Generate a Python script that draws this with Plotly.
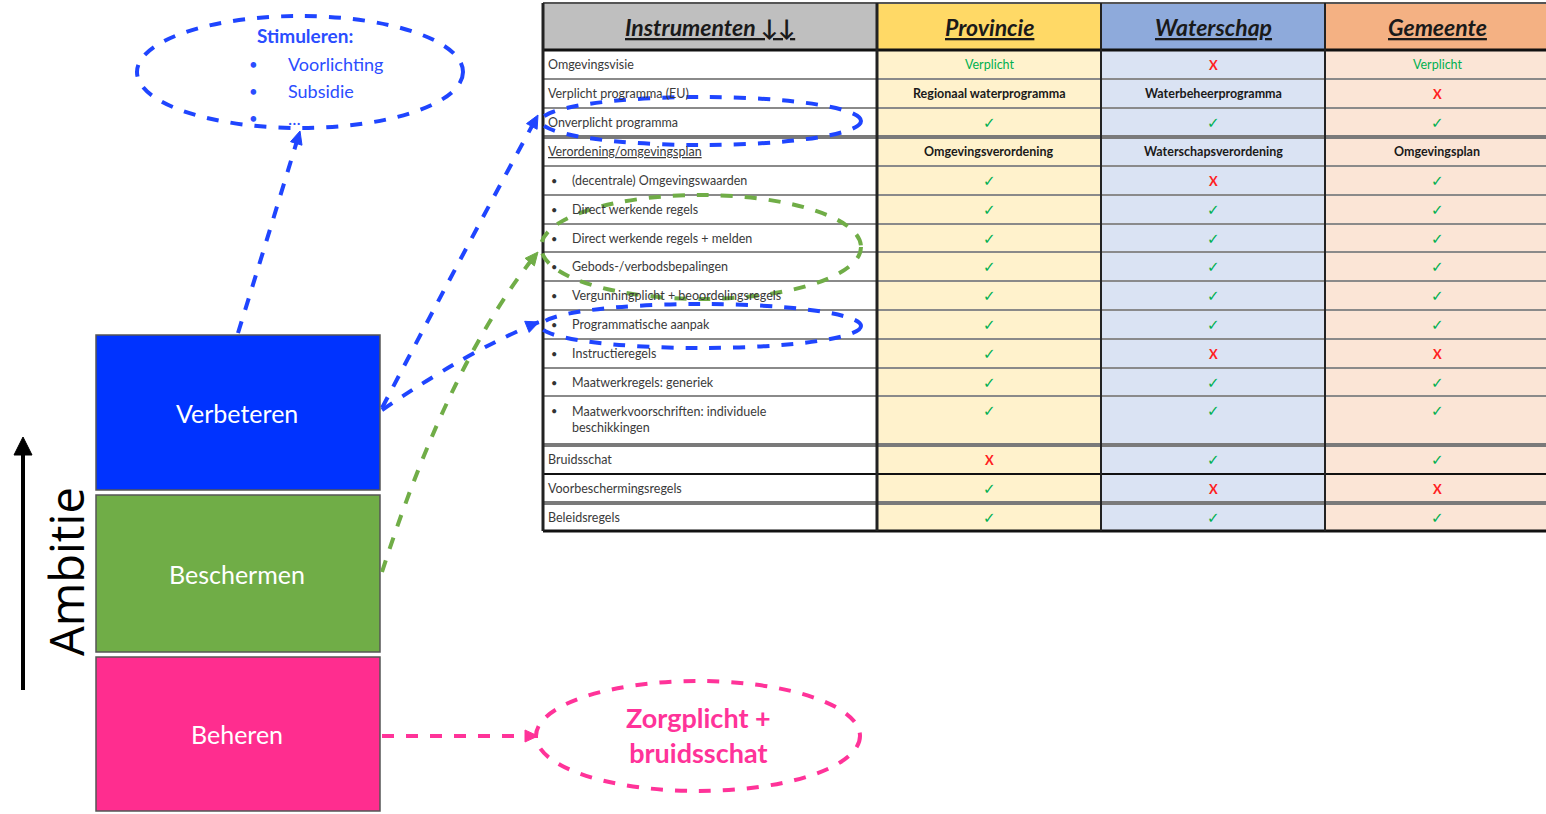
import numpy as np
import plotly.graph_objects as go

# ---------------- data ----------------
instrumenten = [
    "Omgevingsvisie",
    "Verplicht programma (EU)",
    "Onverplicht programma",
    "Verordening/omgevingsplan",
    "(decentrale) Omgevingswaarden",
    "Direct werkende regels",
    "Direct werkende regels + melden",
    "Gebods-/verbodsbepalingen",
    "Vergunningplicht + beoordelingsregels",
    "Programmatische aanpak",
    "Instructieregels",
    "Maatwerkregels: generiek",
    "Maatwerkvoorschriften: individuele<br>beschikkingen",
    "Bruidsschat",
    "Voorbeschermingsregels",
    "Beleidsregels",
]
sub_item = [False] * 4 + [True] * 9 + [False] * 3
overheden = ["Provincie", "Waterschap", "Gemeente"]
provincie = ["Verplicht", "Regionaal waterprogramma", "✓", "Omgevingsverordening",
             "✓", "✓", "✓", "✓", "✓", "✓", "✓", "✓", "✓", "X", "✓", "✓"]
waterschap = ["X", "Waterbeheerprogramma", "✓", "Waterschapsverordening",
              "X", "✓", "✓", "✓", "✓", "✓", "X", "✓", "✓", "✓", "X", "✓"]
gemeente = ["Verplicht", "X", "✓", "Omgevingsplan",
            "✓", "✓", "✓", "✓", "✓", "✓", "X", "✓", "✓", "✓", "X", "✓"]
ambities = ["Verbeteren", "Beschermen", "Beheren"]
stimuleren = ["Voorlichting", "Subsidie", "..."]
zorgplicht = "Zorgplicht +<br>bruidsschat"

# ---------------- layout constants ----------------
W, H = 1546, 814
FONT = "Lato"
col_x = [543, 877, 1101, 1325, 1549]
head_top, head_bot = 3, 50
row_tops = [50, 79, 108, 137, 166, 195, 224, 252, 281, 310, 339, 368, 396, 445, 474, 503, 531]
thick_lines = {137, 445, 503}
black_lines = {474}
head_fill = ["#bfbfbf", "#ffd966", "#8eaadb", "#f4b183"]
body_fill = ["#ffffff", "#fff2cc", "#dae3f3", "#fbe5d6"]
BLUE, GREEN, PINK = "#1f45ff", "#70ad47", "#ff3399"
CHECK, CROSS = "#00b050", "#ff2020"

shapes, ann = [], []

def rect(x0, y0, x1, y1, fill, lc="rgba(0,0,0,0)", lw=0):
    shapes.append(dict(type="rect", x0=x0, y0=y0, x1=x1, y1=y1, fillcolor=fill,
                       line=dict(color=lc, width=lw), layer="below"))

def line(x0, y0, x1, y1, color, width, dash="solid", layer="below"):
    shapes.append(dict(type="line", x0=x0, y0=y0, x1=x1, y1=y1,
                       line=dict(color=color, width=width, dash=dash), layer=layer))

def text(x, y, t, size, color, bold=False, italic=False, xa="center", ya="middle", angle=0,
         family=FONT, align="center"):
    if bold:
        t = "<b>" + t + "</b>"
    if italic:
        t = "<i>" + t + "</i>"
    ann.append(dict(x=x, y=y, text=t, showarrow=False, xanchor=xa, yanchor=ya, textangle=angle,
                    font=dict(size=size, color=color, family=family), align=align))

# ---------------- table ----------------
for c in range(4):
    rect(col_x[c], head_top, col_x[c + 1], head_bot, head_fill[c])
    rect(col_x[c], head_bot, col_x[c + 1], row_tops[-1], body_fill[c])

text((col_x[0] + col_x[1]) / 2, 27, "<u>Instrumenten ↓↓</u>", 23, "#1a1a1a", bold=True, italic=True)
for c, name in enumerate(overheden):
    text((col_x[c + 1] + col_x[c + 2]) / 2, 27, "<u>" + name + "</u>", 23, "#1a1a1a", bold=True, italic=True)

for i, y in enumerate(row_tops[1:-1]):
    if y in thick_lines:
        line(col_x[0], y, W, y, "#7a7a7a", 4)
    elif y in black_lines:
        line(col_x[0], y, W, y, "#111111", 2)
    else:
        line(col_x[0], y, W, y, "#8a8a8a", 2)
line(col_x[0], head_bot, W, head_bot, "#111111", 3)
line(col_x[0], head_top, W, head_top, "#555555", 2)
line(col_x[0], row_tops[-1], W, row_tops[-1], "#111111", 3)
for k, x in enumerate(col_x[:-1]):
    line(x, head_top, x, row_tops[-1], "#222222", 3 if k < 2 else 2)

for i, name in enumerate(instrumenten):
    top = row_tops[i]
    yc = top + 14.5
    if sub_item[i]:
        text(549, yc, "•", 11, "#333333", xa="left")
        if "<br>" in name:
            text(570, top + 6, name, 12.5, "#3a3a3a", xa="left", ya="top", align="left")
        else:
            text(570, yc, name, 12.5, "#3a3a3a", xa="left")
    else:
        t = "<u>" + name + "</u>" if i == 3 else name
        text(546, yc, t, 12.5, "#3a3a3a", xa="left")
    for c, vals in enumerate([provincie, waterschap, gemeente]):
        v = vals[i]
        xc = (col_x[c + 1] + col_x[c + 2]) / 2
        if v == "✓":
            text(xc, yc, "✓", 15, CHECK, family="DejaVu Sans")
        elif v == "X":
            text(xc, yc, "X", 13, CROSS, bold=True)
        elif v == "Verplicht":
            text(xc, yc, v, 12.5, CHECK)
        else:
            text(xc, yc, v, 12.5, "#1a1a1a", bold=True)

# ---------------- ambition boxes ----------------
box_fill = ["#0033ff", "#70ad47", "#ff2d8f"]
box_y = [(335, 490), (495, 652), (657, 811)]
for k, name in enumerate(ambities):
    y0, y1 = box_y[k]
    rect(96, y0, 380, y1, box_fill[k], "#555555", 1.5)
    text(237, (y0 + y1) / 2, name, 25, "#ffffff")

# Ambitie label + arrow
text(66, 572, "Ambitie", 47, "#000000", angle=-90, family="Open Sans")
line(23, 690, 23, 452, "#000000", 4, layer="above")
shapes.append(dict(type="path", path="M 14 455 L 23 437 L 32 455 Z", fillcolor="#000000",
                   line=dict(color="#000000", width=1)))

# ---------------- ellipses ----------------
def ellipse(cx, cy, rx, ry, color):
    shapes.append(dict(type="circle", x0=cx - rx, x1=cx + rx, y0=cy - ry, y1=cy + ry,
                       line=dict(color=color, width=4, dash="dash"), layer="above"))

ellipse(300, 72, 163, 56, BLUE)
ellipse(701, 121, 160, 24, BLUE)
ellipse(701, 247, 160, 52, GREEN)
ellipse(701, 326, 160, 22, BLUE)
ellipse(698, 736, 162, 55, PINK)

text(305, 35, "Stimuleren:", 19, "#2b4dff", bold=True)
for k, s in enumerate(stimuleren):
    yy = 64 + k * 27
    text(253, yy, "•", 15, "#2b4dff")
    text(286, yy, s, 18, "#2b4dff", xa="left")
text(698, 735, zorgplicht, 27, PINK, bold=True)

# ---------------- connectors ----------------
def arrow(p0, pc, p1, color):
    shapes.append(dict(type="path",
                       path=f"M {p0[0]} {p0[1]} Q {pc[0]} {pc[1]} {p1[0]} {p1[1]}",
                       line=dict(color=color, width=4, dash="dash"), layer="above"))
    d = np.array(p1, float) - np.array(pc, float)
    d /= np.linalg.norm(d)
    n = np.array([-d[1], d[0]])
    tip = np.array(p1, float)
    base = tip - 13 * d
    a, b = base + 6 * n, base - 6 * n
    shapes.append(dict(type="path",
                       path=f"M {tip[0]:.1f} {tip[1]:.1f} L {a[0]:.1f} {a[1]:.1f} L {b[0]:.1f} {b[1]:.1f} Z",
                       fillcolor=color, line=dict(color=color, width=1), layer="above"))

arrow((238, 333), (270, 230), (300, 131), BLUE)
arrow((382, 408), (470, 240), (538, 115), BLUE)
arrow((382, 410), (470, 350), (539, 322), BLUE)
arrow((382, 572), (450, 360), (538, 252), GREEN)
arrow((382, 736), (460, 736), (538, 736), PINK)

fig = go.Figure()
fig.update_layout(
    width=W, height=H, autosize=False,
    margin=dict(l=0, r=0, t=0, b=0),
    paper_bgcolor="#ffffff", plot_bgcolor="#ffffff",
    xaxis=dict(range=[0, W], visible=False, fixedrange=True),
    yaxis=dict(range=[H, 0], visible=False, fixedrange=True),
    shapes=shapes, annotations=ann, showlegend=False,
)
fig.write_html("out.html", config={"displayModeBar": False},
               post_script="document.body.style.margin='0';document.body.style.overflow='hidden';")
